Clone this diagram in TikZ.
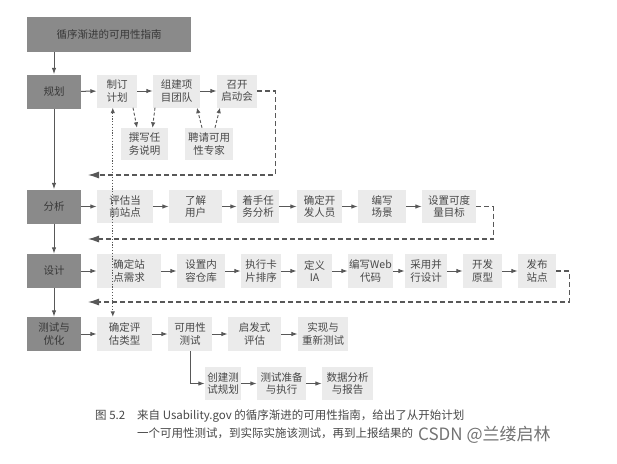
\documentclass[tikz,border=0pt]{standalone}
\usepackage{fontspec}
\setmainfont{Noto Sans CJK SC}
\usetikzlibrary{arrows.meta}
\definecolor{boxdark}{HTML}{8A8A8A}
\definecolor{boxlight}{HTML}{EBEBEB}
\definecolor{txtdark}{HTML}{383838}
\definecolor{txtgray}{HTML}{484848}
\definecolor{linegray}{HTML}{585858}
\begin{document}
\begin{tikzpicture}[x=1pt,y=-1pt,font=\fontsize{10.5}{12.2}\selectfont,
    mainbox/.style={fill=boxdark,text=txtdark,minimum width=54pt,minimum height=34pt,inner sep=0pt,align=center},
    subbox/.style={fill=boxlight,text=txtgray,minimum height=33pt,inner sep=0pt,align=center},
    flow/.style={draw=linegray,line width=1pt,-{Latex[length=6.5pt,width=4.5pt]}},
    back/.style={draw=linegray,line width=1.1pt,dash pattern=on 5pt off 3pt,-{Latex[length=11pt,width=7pt]}},
    aux/.style={draw=linegray,line width=0.9pt,dash pattern=on 3pt off 2pt,-{Latex[length=5.5pt,width=4.5pt]}}]
  \useasboundingbox[fill=white] (0,0) rectangle (617,463);
  \node[mainbox,minimum width=164pt,minimum height=35pt] (title) at (109,34.5) {循序渐进的可用性指南};
  \node[mainbox] (plan) at (54,91.5) {规划};
  \node[mainbox] (ana) at (54,206.5) {分析};
  \node[mainbox] (des) at (54,271) {设计};
  \node[mainbox] (tst) at (54,334) {测试与\\优化};
  % rows of steps
  \foreach \nm/\x/\w/\txt in {p1/117/40/{制订\\计划},p2/176.5/47/{组建项\\目团队},p3/237/40/{召开\\启动会}}
    \node[subbox,minimum width=\w pt] (\nm) at (\x,91) {\txt};
  \foreach \nm/\x/\w/\txt in {p4/144.5/47/{撰写任\\务说明},p5/209/48/{聘请可用\\性专家}}
    \node[subbox,minimum width=\w pt,minimum height=32pt] (\nm) at (\x,144) {\txt};
  \foreach \nm/\x/\w/\txt in {a1/125/56/{评估当\\前站点},a2/195.5/53/{了解\\用户},a3/258/42/{着手任\\务分析},
      a4/319.5/45/{确定开\\发人员},a5/382/48/{编写\\场景},a6/449/54/{设置可度\\量目标}}
    \node[subbox,minimum width=\w pt] (\nm) at (\x,206.5) {\txt};
  \foreach \nm/\x/\w/\txt in {d1/129/64/{确定站\\点需求},d2/201/48/{设置内\\容仓库},d3/261/40/{执行卡\\片排序},
      d4/314.5/35/{定义\\IA},d5/370.5/45/{编写Web\\代码},d6/426/42/{采用并\\行设计},d7/482.5/39/{开发\\原型},d8/537/38/{发布\\站点}}
    \node[subbox,minimum width=\w pt,minimum height=34pt] (\nm) at (\x,271) {\txt};
  \foreach \nm/\x/\w/\txt in {t1/124.5/55/{确定评\\估类型},t2/190/44/{可用性\\测试},t3/254.5/53/{启发式\\评估},t4/323/50/{实现与\\重新测试}}
    \node[subbox,minimum width=\w pt,minimum height=34pt] (\nm) at (\x,334) {\txt};
  \foreach \nm/\x/\w/\txt in {u1/223/36/{创建测\\试规划},u2/281.5/49/{测试准备\\与执行},u3/347.5/51/{数据分析\\与报告}}
    \node[subbox,minimum width=\w pt] (\nm) at (\x,383.5) {\txt};
  % solid flow
  \draw[flow] (title.south -| plan.north) -- (plan.north);
  \foreach \a/\b in {plan/ana,ana/des,des/tst}
    \draw[flow] (\a) -- (\b);
  \foreach \a/\b in {plan/p1,p1/p2,p2/p3,ana/a1,a1/a2,a2/a3,a3/a4,a4/a5,a5/a6,
      des/d1,d1/d2,d2/d3,d3/d4,d4/d5,d5/d6,d6/d7,d7/d8,tst/t1,t1/t2,t2/t3,t3/t4,u1/u2,u2/u3}
    \draw[flow] (\a) -- (\b);
  \draw[flow] (t2.south) |- (u1.west);
  % loops back to the left
  \coordinate (r1) at (88,175);
  \coordinate (r2) at (88,239);
  \coordinate (r3) at (88,302);
  \draw[back] (p3.east) -- ++(18,0) |- (r1);
  \draw[back] (a6.east) -- ++(17,0) |- (r2);
  \draw[back] (d8.east) -- ++(13,0) |- (r3);
  % side tasks
  \draw[aux] ([xshift=16pt]p1.south) -- ([xshift=-7.5pt]p4.north);
  \draw[aux] ([xshift=-21.5pt]p2.south) -- ([xshift=8pt]p4.north);
  \draw[aux] ([xshift=-7pt]p5.north) -- ([xshift=20.5pt]p2.south);
  \draw[aux] ([xshift=6pt]p5.north) -- ([xshift=-17pt]p3.south);
  \draw[draw=linegray,line width=0.9pt,dash pattern=on 1.2pt off 1.6pt,{Latex[length=5.5pt,width=4.5pt]}-{Latex[length=5.5pt,width=4.5pt]}]
    ([xshift=16pt]p1.south west) -- ([xshift=16pt]t1.north west);
  % caption
  \node[anchor=base west,inner sep=0pt,text=txtgray,font=\fontsize{11.5}{12}\selectfont] (fig) at (95,419) {图 5.2};
  \node[anchor=base west,inner sep=0pt,text=txtgray,font=\fontsize{11.5}{12}\selectfont] (cap1) at (137,419) {来自 Usability.gov 的循序渐进的可用性指南，给出了从开始计划};
  \node[anchor=base west,inner sep=0pt,text=txtgray,font=\fontsize{11.5}{12}\selectfont] (cap2) at (137,437) {一个可用性测试，到实际实施该测试，再到上报结果的};
  \node[anchor=base west,inner sep=0pt,text=black!55,font=\fontsize{17}{18}\selectfont] (mark) at (418,440) {CSDN @兰缕启林};
\end{tikzpicture}
\end{document}
